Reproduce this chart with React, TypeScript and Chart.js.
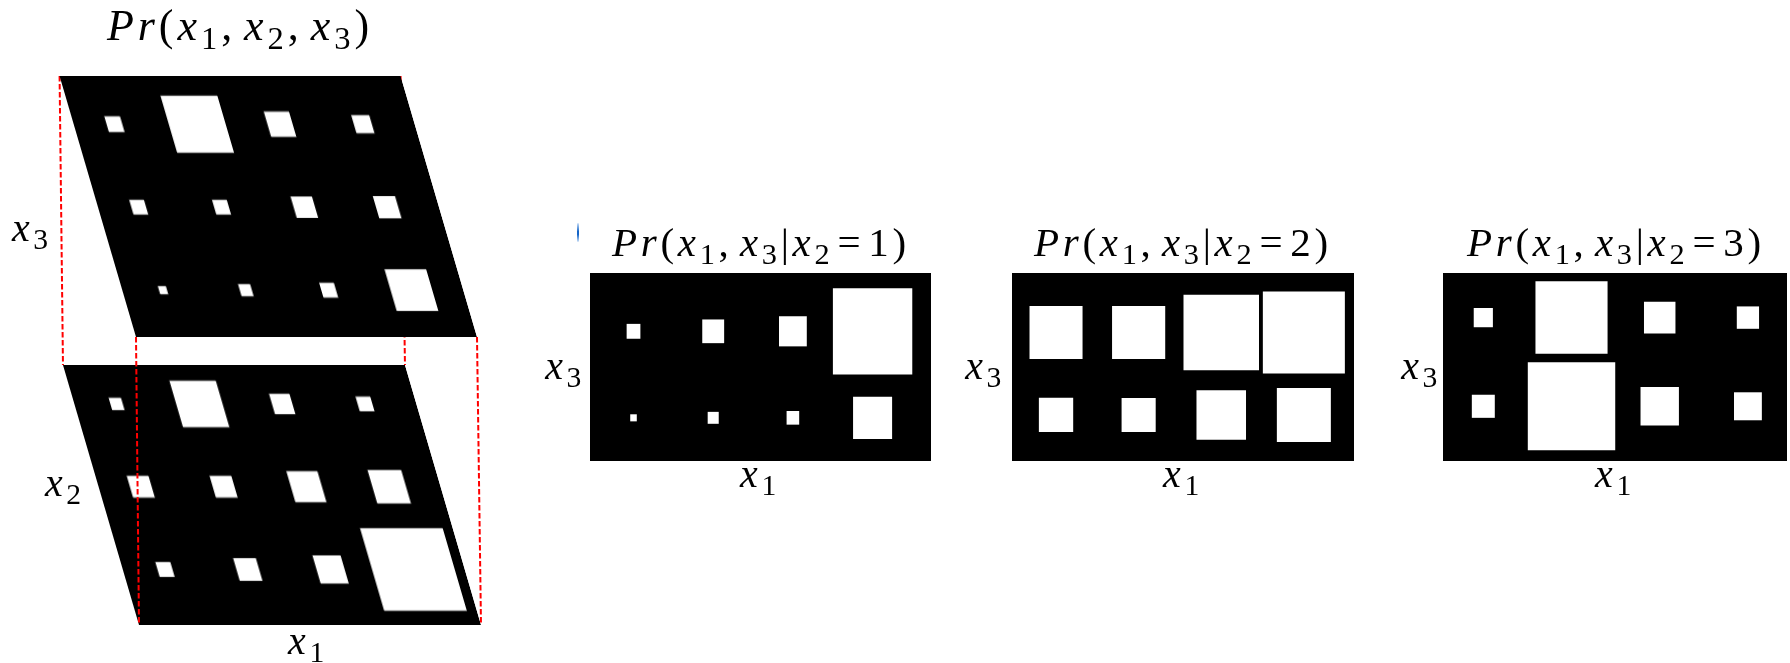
import React, { useEffect, useRef } from "react";
import { Chart, registerables } from "chart.js";

Chart.register(...registerables);

// x1 takes four values (columns of every diagram)
const X1_LEVELS = [1, 2, 3, 4];

// Hinton weights: share of a cell's area covered by its white square.
// Rows are listed top to bottom, columns follow X1_LEVELS.
const SLAB_X3_WEIGHTS = [
  [0.033, 0.461, 0.088, 0.044],
  [0.029, 0.029, 0.063, 0.068],
  [0.008, 0.019, 0.029, 0.245],
];
const SLAB_X2_WEIGHTS = [
  [0.02, 0.305, 0.057, 0.029],
  [0.065, 0.065, 0.135, 0.159],
  [0.03, 0.071, 0.11, 0.98],
];
const GIVEN_X2_1_WEIGHTS = [
  [0.027, 0.071, 0.116, 0.976],
  [0.0055, 0.017, 0.0225, 0.232],
];
const GIVEN_X2_2_WEIGHTS = [
  [0.402, 0.404, 0.821, 0.97],
  [0.166, 0.164, 0.35, 0.417],
];
const GIVEN_X2_3_WEIGHTS = [
  [0.044, 0.656, 0.122, 0.06],
  [0.064, 0.968, 0.183, 0.095],
];

type Frame = {
  left: number;
  top: number;
  width: number;
  height: number;
  xMin: number;
  xMax: number;
  yMin: number;
  yMax: number;
  skew?: number; // horizontal shear, degrees
};

const TOP_SLAB: Frame = { left: 136, top: 76, width: 341, height: 261, xMin: 0.508, xMax: 4.626, yMin: 0.436, yMax: 3.581, skew: 16.32 };
const BOTTOM_SLAB: Frame = { left: 139, top: 365, width: 342, height: 260, xMin: 0.49, xMax: 4.62, yMin: 0.329, yMax: 3.471, skew: 16.3 };
const PANEL_1: Frame = { left: 590, top: 273, width: 341, height: 188, xMin: 0.454, xMax: 4.733, yMin: 0.501, yMax: 2.674 };
const PANEL_2: Frame = { left: 1012, top: 273, width: 342, height: 188, xMin: 0.467, xMax: 4.607, yMin: 0.442, yMax: 2.721 };
const PANEL_3: Frame = { left: 1443, top: 273, width: 344, height: 188, xMin: 0.543, xMax: 4.443, yMin: 0.383, yMax: 2.503 };

function hintonDatasets(weights: number[][], frame: Frame) {
  const nRows = weights.length;
  const cellPx = frame.width / (frame.xMax - frame.xMin);
  const sets: any[] = [];
  weights.forEach((row, r) => {
    const level = nRows - r;
    row.forEach((w, c) => {
      const side = Math.sqrt(w);
      sets.push({
        data: [{ x: X1_LEVELS[c], y: [level - side / 2, level + side / 2] }],
        backgroundColor: "#ffffff",
        borderWidth: 0,
        barThickness: side * cellPx,
        grouped: false,
      });
    });
  });
  return sets;
}

function Hinton({ weights, frame, z }: { weights: number[][]; frame: Frame; z: number }) {
  const ref = useRef<HTMLCanvasElement | null>(null);
  useEffect(() => {
    if (!ref.current) return;
    const chart = new Chart(ref.current, {
      type: "bar",
      data: { datasets: hintonDatasets(weights, frame) },
      options: {
        animation: false,
        responsive: false,
        devicePixelRatio: 1,
        events: [],
        layout: { padding: 0 },
        plugins: { legend: { display: false }, tooltip: { enabled: false }, title: { display: false } },
        scales: {
          x: { type: "linear", min: frame.xMin, max: frame.xMax, offset: false, display: false },
          y: { type: "linear", min: frame.yMin, max: frame.yMax, display: false },
        },
      } as any,
    });
    return () => chart.destroy();
  }, [weights, frame]);
  return (
    <canvas
      ref={ref}
      width={frame.width}
      height={frame.height}
      style={{
        position: "absolute",
        left: frame.left,
        top: frame.top,
        width: frame.width,
        height: frame.height,
        background: "#000",
        zIndex: z,
        transformOrigin: "0 100%",
        transform: frame.skew ? `skewX(${frame.skew}deg)` : undefined,
      }}
    />
  );
}

type Tok = { s: string; it?: boolean; sub?: boolean; pl?: number; pr?: number };

const SERIF = "'Liberation Serif', 'DejaVu Serif', serif";

function MathLabel({ toks, x, y, size, anchor }: { toks: Tok[]; x: number; y: number; size: number; anchor: "left" | "center" | "right" }) {
  const shift = anchor === "center" ? "translateX(-50%)" : anchor === "right" ? "translateX(-100%)" : "none";
  return (
    <div
      style={{
        position: "absolute",
        left: x,
        top: y - 0.84 * size,
        fontFamily: SERIF,
        fontSize: size,
        lineHeight: `${size}px`,
        whiteSpace: "nowrap",
        letterSpacing: "0.09em",
        color: "#000",
        transform: shift,
        zIndex: 5,
      }}
    >
      {toks.map((t, i) => (
        <span
          key={i}
          style={{
            fontStyle: t.it ? "italic" : "normal",
            fontSize: t.sub ? "0.74em" : undefined,
            position: t.sub ? "relative" : undefined,
            top: t.sub ? "0.27em" : undefined,
            paddingLeft: t.pl ? `${t.pl}em` : undefined,
            paddingRight: t.pr ? `${t.pr}em` : undefined,
          }}
        >
          {t.s}
        </span>
      ))}
    </div>
  );
}

const xs = (n: string): Tok[] => [{ s: "x", it: true }, { s: n, sub: true }];

const TITLE_JOINT: Tok[] = [
  { s: "P", it: true }, { s: "r", it: true }, { s: "(" },
  ...xs("1"), { s: ",", pr: 0.18 }, ...xs("2"), { s: ",", pr: 0.18 }, ...xs("3"), { s: ")" },
];

const conditional = (v: string): Tok[] => [
  { s: "P", it: true }, { s: "r", it: true }, { s: "(" },
  ...xs("1"), { s: ",", pr: 0.18 }, ...xs("3"), { s: "|" }, ...xs("2"),
  { s: "=", pl: 0.1, pr: 0.1 }, { s: v }, { s: ")" },
];

function cornerLines() {
  const corners = (f: Frame) => {
    const dx = Math.tan(((f.skew || 0) * Math.PI) / 180) * f.height;
    const bottom = f.top + f.height;
    return [
      [f.left - dx, f.top],
      [f.left, bottom],
      [f.left + f.width - dx, f.top],
      [f.left + f.width, bottom],
    ];
  };
  const a = corners(TOP_SLAB);
  const b = corners(BOTTOM_SLAB);
  return a.map((p, i) => ({ x1: p[0], y1: p[1], x2: b[i][0], y2: b[i][1] }));
}

export default function App() {
  const lines = cornerLines();
  return (
    <div
      style={{
        position: "fixed",
        left: 0,
        top: 0,
        width: 1790,
        height: 663,
        background: "#fff",
        overflow: "hidden",
      }}
    >
      <Hinton weights={SLAB_X2_WEIGHTS} frame={BOTTOM_SLAB} z={1} />
      <svg width={1790} height={663} style={{ position: "absolute", left: 0, top: 0, zIndex: 2 }}>
        {lines.map((l, i) => (
          <line key={i} x1={l.x1} y1={l.y1} x2={l.x2} y2={l.y2} stroke="#ff0000" strokeWidth={2} strokeDasharray="5.5 2.5" />
        ))}
      </svg>
      <Hinton weights={SLAB_X3_WEIGHTS} frame={TOP_SLAB} z={3} />
      <Hinton weights={GIVEN_X2_1_WEIGHTS} frame={PANEL_1} z={3} />
      <Hinton weights={GIVEN_X2_2_WEIGHTS} frame={PANEL_2} z={3} />
      <Hinton weights={GIVEN_X2_3_WEIGHTS} frame={PANEL_3} z={3} />

      <MathLabel toks={TITLE_JOINT} x={240} y={41} size={44} anchor="center" />
      <MathLabel toks={xs("3")} x={12} y={242} size={40} anchor="left" />
      <MathLabel toks={xs("2")} x={45} y={497} size={40} anchor="left" />
      <MathLabel toks={xs("1")} x={308} y={655} size={40} anchor="center" />

      <MathLabel toks={conditional("1")} x={761} y={256} size={41} anchor="center" />
      <MathLabel toks={conditional("2")} x={1183} y={256} size={41} anchor="center" />
      <MathLabel toks={conditional("3")} x={1616} y={256} size={41} anchor="center" />

      <MathLabel toks={xs("3")} x={585} y={380} size={40} anchor="right" />
      <MathLabel toks={xs("3")} x={1005} y={380} size={40} anchor="right" />
      <MathLabel toks={xs("3")} x={1441} y={380} size={40} anchor="right" />

      <MathLabel toks={xs("1")} x={760} y={488} size={40} anchor="center" />
      <MathLabel toks={xs("1")} x={1183} y={488} size={40} anchor="center" />
      <MathLabel toks={xs("1")} x={1615} y={488} size={40} anchor="center" />

      <div
        style={{
          position: "absolute",
          left: 577,
          top: 223,
          width: 2,
          height: 19,
          borderRadius: 2,
          background: "linear-gradient(#cfe2f8, #1565c8 45%, #1565c8 60%, #cfe2f8)",
          zIndex: 5,
        }}
      />
    </div>
  );
}
